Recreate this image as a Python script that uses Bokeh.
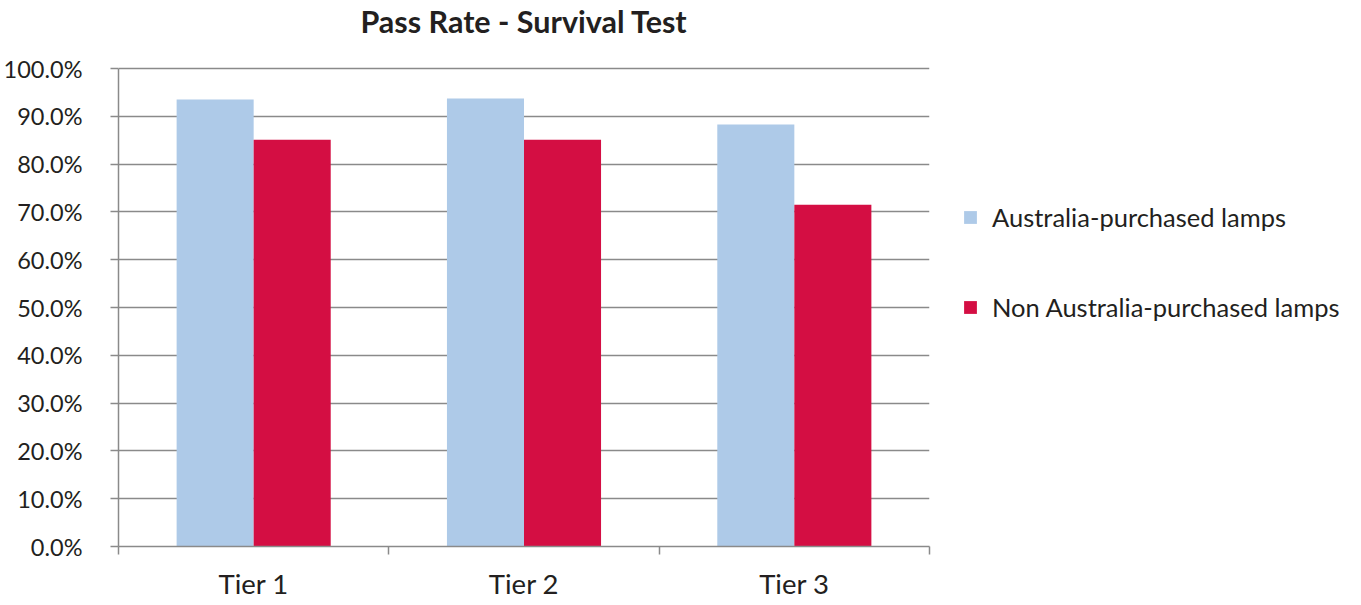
from bokeh.plotting import figure
from bokeh.models import (ColumnDataSource, Range1d, FixedTicker, Legend, LegendItem,
                          NumeralTickFormatter, Label)
from bokeh.transform import dodge
from bokeh.embed import file_html
from bokeh.resources import INLINE

categories = ["Tier 1", "Tier 2", "Tier 3"]
australia = [0.935, 0.937, 0.883]
non_australia = [0.851, 0.851, 0.715]
series_names = ["Australia-purchased lamps", "Non Australia-purchased lamps"]
y_ticks = [0.0, 0.1, 0.2, 0.3, 0.4, 0.5, 0.6, 0.7, 0.8, 0.9, 1.0]
title_text = "Pass Rate - Survival Test"

FONT = "Lato"
TEXT = "#231f20"
BLUE = "#aecae8"
RED = "#d40e43"
GRID = "#8a8a8a"

PLOT_H = 478      # height of the 0..100% area in px
TITLE_H = 68      # room above it for the title
FRAME_W = 811
FRAME_H = PLOT_H + TITLE_H
y_max = 1.0

pos = [i + 0.5 for i in range(len(categories))]
src = ColumnDataSource(dict(x=pos, a=australia, n=non_australia))

p = figure(frame_width=FRAME_W, frame_height=FRAME_H, output_backend="svg",
           toolbar_location=None,
           x_range=Range1d(0, len(categories)),
           y_range=Range1d(0, y_max * FRAME_H / PLOT_H),
           min_border_left=110, min_border_right=424, min_border_top=0,
           min_border_bottom=50)

bw = 0.285
r1 = p.vbar(x=dodge("x", -bw / 2, range=p.x_range), top="a", width=bw, source=src,
            fill_color=BLUE, line_color=None)
r2 = p.vbar(x=dodge("x", bw / 2, range=p.x_range), top="n", width=bw, source=src,
            fill_color=RED, line_color=None)

title = Label(x=FRAME_W / 2, y=FRAME_H - 20, x_units="screen", y_units="screen",
              text=title_text, text_align="center", text_baseline="middle",
              text_font=FONT, text_font_size="30.5px", text_font_style="bold",
              text_color=TEXT)
p.add_layout(title)

p.outline_line_color = None
p.xgrid.grid_line_color = None
p.ygrid.grid_line_color = GRID
p.ygrid.grid_line_width = 1.5
p.ygrid.ticker = FixedTicker(ticks=y_ticks)

xa = p.xaxis[0]
xa.ticker = FixedTicker(ticks=pos, minor_ticks=[0, 1, 2, 3])
xa.major_label_overrides = {pos[i]: c for i, c in enumerate(categories)}
xa.major_tick_line_color = None
xa.major_tick_in = 0
xa.major_tick_out = 0
xa.minor_tick_in = 0
xa.minor_tick_out = 8
xa.minor_tick_line_color = GRID
xa.minor_tick_line_width = 1.5
xa.axis_line_color = GRID
xa.axis_line_width = 1.5
xa.major_label_standoff = 12
xa.major_label_text_font = FONT
xa.major_label_text_font_size = "27.5px"
xa.major_label_text_color = TEXT

ya = p.yaxis[0]
ya.ticker = FixedTicker(ticks=y_ticks)
ya.bounds = (0, y_max)
ya.formatter = NumeralTickFormatter(format="0.0%")
ya.minor_tick_line_color = None
ya.major_tick_in = 0
ya.major_tick_out = 8
ya.major_tick_line_color = GRID
ya.major_tick_line_width = 1.5
ya.axis_line_color = GRID
ya.axis_line_width = 1.5
ya.major_label_standoff = 28
ya.major_label_text_font = FONT
ya.major_label_text_font_size = "23.5px"
ya.major_label_text_color = TEXT

legend = Legend(items=[LegendItem(label=series_names[0], renderers=[r1]),
                       LegendItem(label=series_names[1], renderers=[r2])])
legend.border_line_color = None
legend.background_fill_alpha = 0
legend.glyph_width = 16
legend.glyph_height = 16
legend.label_standoff = 14
legend.spacing = 60
legend.padding = 0
legend.margin = 0
legend.label_text_font = FONT
legend.label_text_font_size = "25.5px"
legend.label_text_color = TEXT
legend.label_height = 16
legend.location = (33, 224)
p.add_layout(legend, "right")

open("out.html", "w").write(file_html(p, INLINE))
